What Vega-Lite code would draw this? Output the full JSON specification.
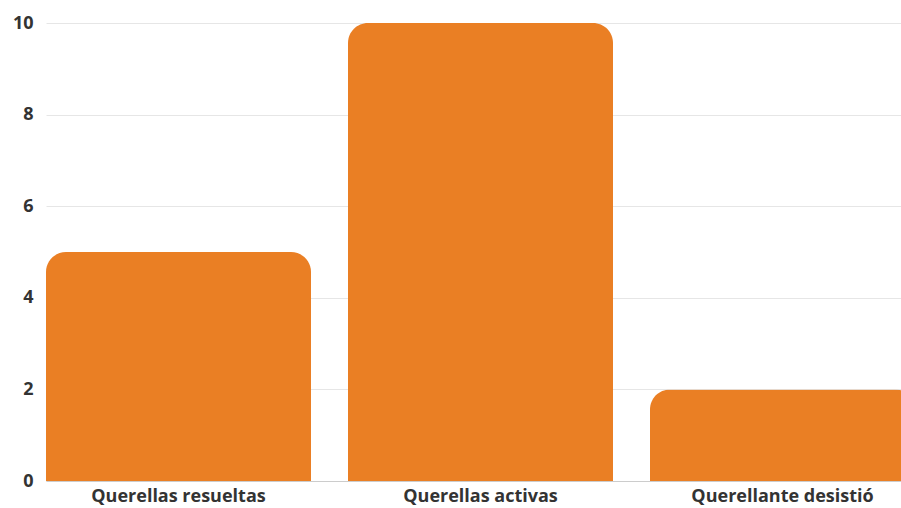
{
  "$schema": "https://vega.github.io/schema/vega-lite/v6.json",
  "autosize": {"type": "none"},
  "padding": {"left": 46, "top": 23, "right": 0, "bottom": 27},
  "width": 869,
  "height": 458,
  "background": "white",
  "config": {"view": {"stroke": null}, "font": "Open Sans"},
  "data": {"values": [
    {"categoria": "Querellas resueltas", "cantidad": 5},
    {"categoria": "Querellas activas", "cantidad": 10},
    {"categoria": "Querellante desistió", "cantidad": 2}
  ]},
  "mark": {"type": "bar", "color": "#EA7F24", "cornerRadiusTopLeft": 20, "cornerRadiusTopRight": 20},
  "encoding": {
    "x": {
      "field": "categoria", "type": "nominal", "sort": null,
      "scale": {"paddingInner": 0.1225, "paddingOuter": 0},
      "axis": {"title": null, "labelAngle": 0, "ticks": false, "domainColor": "#cccccc", "labelFontSize": 18, "labelFontWeight": "bold", "labelColor": "#333333", "labelPadding": 6, "labelLimit": 0}
    },
    "y": {
      "field": "cantidad", "type": "quantitative",
      "scale": {"domain": [0, 10]},
      "axis": {"title": null, "values": [0, 2, 4, 6, 8, 10], "domain": false, "ticks": false, "gridColor": "#e6e6e6", "labelFontSize": 18, "labelFontWeight": "bold", "labelColor": "#333333", "labelPadding": 13}
    }
  }
}
